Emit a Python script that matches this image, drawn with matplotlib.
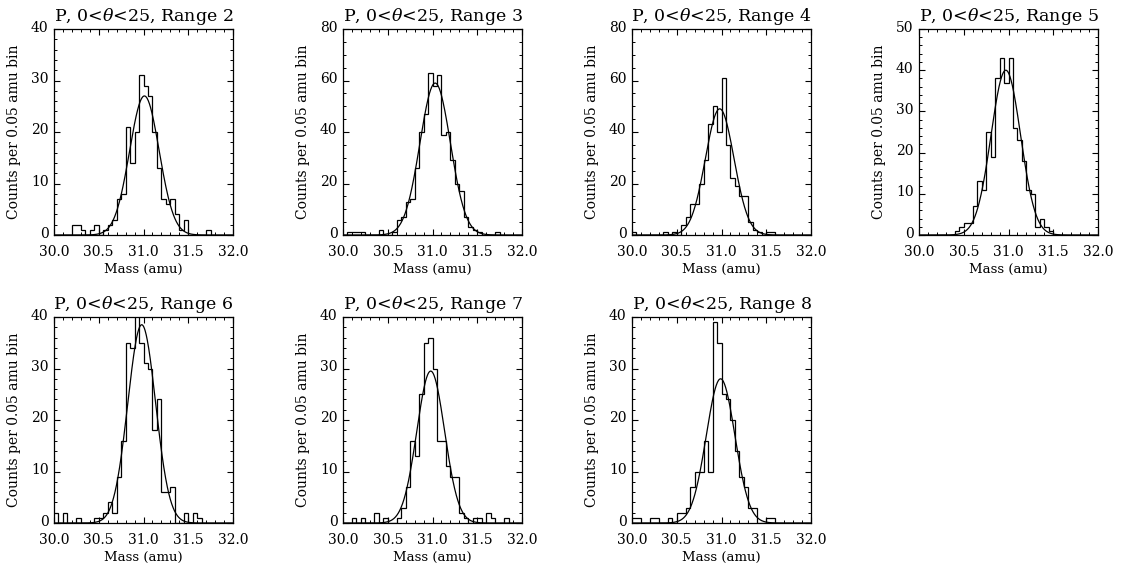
import matplotlib
matplotlib.use('Agg')
import matplotlib.pyplot as plt
from matplotlib.ticker import MultipleLocator, FormatStrFormatter
from matplotlib.transforms import ScaledTranslation
import numpy as np

plt.rcParams['font.family'] = ['DejaVu Serif']
plt.rcParams['mathtext.fontset'] = 'dejavuserif'

# 0.05 amu bins from 30.0 to 32.0
mass_edges = np.linspace(30.0, 32.0, 41)

range_names = ['Range 2', 'Range 3', 'Range 4', 'Range 5', 'Range 6', 'Range 7', 'Range 8']

counts_r2 = [0, 0, 0, 0, 2, 2, 1, 0, 1, 2, 0, 1, 2, 3, 7, 8, 21, 14, 20, 31,
             29, 27, 20, 13, 7, 6, 7, 4, 1, 3, 0, 0, 0, 0, 1, 0, 0, 0, 0, 0]
counts_r3 = [0, 1, 1, 1, 1, 0, 0, 0, 2, 0, 0, 1, 6, 7, 13, 14, 26, 40, 47, 63,
             58, 62, 39, 40, 29, 20, 17, 7, 3, 2, 1, 0, 0, 0, 1, 0, 0, 0, 0, 0]
counts_r4 = [1, 0, 0, 0, 0, 0, 0, 1, 0, 1, 0, 4, 7, 12, 12, 20, 29, 43, 50, 40,
             61, 35, 22, 19, 15, 15, 5, 2, 1, 0, 1, 1, 0, 0, 0, 0, 0, 0, 0, 0]
counts_r5 = [0, 0, 0, 0, 0, 0, 0, 0, 1, 2, 3, 3, 7, 13, 11, 25, 19, 38, 43, 37,
             43, 26, 23, 18, 11, 10, 2, 4, 2, 1, 0, 0, 0, 0, 0, 0, 0, 0, 0, 0]
counts_r6 = [2, 0, 2, 0, 0, 1, 0, 0, 0, 1, 1, 2, 4, 2, 9, 16, 35, 34, 41, 35,
             31, 30, 18, 24, 6, 6, 7, 0, 0, 2, 0, 2, 1, 0, 0, 0, 0, 0, 0, 0]
counts_r7 = [0, 0, 1, 0, 1, 0, 0, 2, 0, 1, 0, 0, 1, 3, 7, 16, 13, 25, 35, 36,
             30, 16, 16, 11, 9, 9, 2, 1, 0, 1, 1, 0, 2, 1, 0, 0, 1, 0, 0, 0]
counts_r8 = [1, 1, 0, 0, 1, 1, 0, 0, 1, 0, 2, 2, 3, 7, 10, 10, 16, 10, 39, 35,
             25, 24, 20, 14, 9, 7, 3, 3, 0, 0, 1, 1, 0, 0, 0, 0, 0, 0, 0, 0]
all_counts = [counts_r2, counts_r3, counts_r4, counts_r5, counts_r6, counts_r7, counts_r8]

# Gaussian fit parameters
fit_amp = [27.0, 59.0, 49.0, 40.0, 38.5, 29.5, 28.0]
fit_center = [31.01, 31.03, 30.98, 30.97, 30.98, 30.98, 30.99]
fit_sigma = [0.165, 0.17, 0.16, 0.165, 0.155, 0.155, 0.16]

y_max = [40, 80, 80, 50, 40, 40, 40]
y_step = [10, 20, 20, 10, 10, 10, 10]

fig = plt.figure(figsize=(11.24, 5.69), dpi=100)

col_left = [54, 343, 632, 919]
row_top = [29, 317]
ax_w, ax_h = 179, 206
W, H = 1124, 569

x_fine = np.linspace(30.0, 32.0, 500)
lift = ScaledTranslation(0, 3 / 100, fig.dpi_scale_trans)

for i, counts in enumerate(all_counts):
    row, col = divmod(i, 4)
    rect = [col_left[col] / W, 1 - (row_top[row] + ax_h) / H, ax_w / W, ax_h / H]
    ax = fig.add_axes(rect)

    ax.stairs(counts, mass_edges, color='black', linewidth=0.9, baseline=None)
    fit = fit_amp[i] * np.exp(-0.5 * ((x_fine - fit_center[i]) / fit_sigma[i]) ** 2)
    ax.plot(x_fine, fit, color='black', linewidth=0.9)

    ax.set_xlim(30.0, 32.0)
    ax.set_ylim(0, y_max[i])
    ax.xaxis.set_major_locator(MultipleLocator(0.5))
    ax.xaxis.set_minor_locator(MultipleLocator(0.1))
    ax.yaxis.set_major_locator(MultipleLocator(y_step[i]))
    ax.yaxis.set_minor_locator(MultipleLocator(2 if y_step[i] == 10 else 5))
    ax.xaxis.set_major_formatter(FormatStrFormatter('%.1f'))
    ax.tick_params(which='both', direction='in', top=True, right=True, labelsize=10)
    ax.tick_params(axis='x', pad=7)
    ax.tick_params(axis='y', pad=4)
    ax.tick_params(which='major', length=4, width=0.8)
    ax.tick_params(which='minor', length=2, width=0.7)
    for s in ax.spines.values():
        s.set_linewidth(0.9)
    # IDL puts the y labels a little above their ticks
    for lbl in ax.get_yticklabels():
        lbl.set_transform(lbl.get_transform() + lift)

    ax.set_title(r'P, 0<$\theta$<25, ' + range_names[i], fontsize=12.5, pad=6)
    ax.set_xlabel('Mass (amu)', fontsize=9.5, labelpad=3)
    ax.set_ylabel('Counts per 0.05 amu bin', fontsize=10, labelpad=7)

fig.savefig('out.png', dpi=100, facecolor='white')
